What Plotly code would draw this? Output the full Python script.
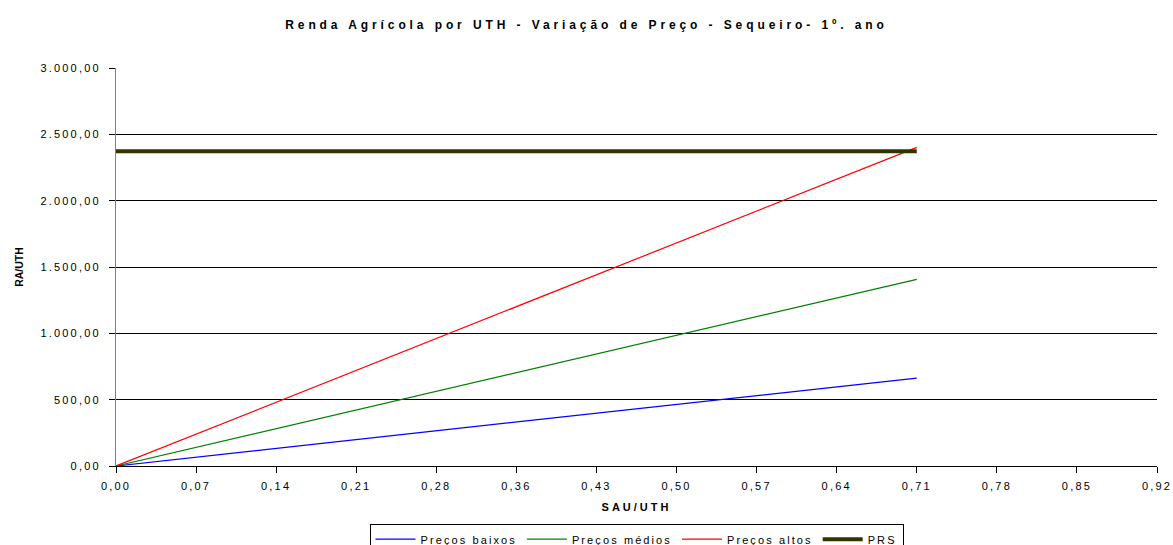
import plotly.graph_objects as go

# ---- data ----
sau_uth = [0.0, 0.711]            # SAU/UTH at the start and end of each series
precos_baixos = [0, 663]
precos_medios = [0, 1407]
precos_altos = [0, 2402]
prs = [2372, 2372]

series_names = ["Preços baixos", "Preços médios", "Preços altos", "PRS"]
x_step = 0.0711                    # category step of the x axis
x_max = 13 * x_step

fig = go.Figure()
fig.add_trace(go.Scatter(x=sau_uth, y=precos_baixos, mode="lines", name=series_names[0],
                         line=dict(color="#0000FF", width=1.2)))
fig.add_trace(go.Scatter(x=sau_uth, y=precos_medios, mode="lines", name=series_names[1],
                         line=dict(color="#008000", width=1.2)))
fig.add_trace(go.Scatter(x=sau_uth, y=precos_altos, mode="lines", name=series_names[2],
                         line=dict(color="#FF0000", width=1.2)))
fig.add_trace(go.Scatter(x=sau_uth, y=prs, mode="lines", name=series_names[3],
                         line=dict(color="#333300", width=4)))

fig.update_layout(
    width=1173, height=545,
    margin=dict(l=116, r=16, t=68, b=79, autoexpand=False),
    paper_bgcolor="white", plot_bgcolor="white",
    separators=",.",
    font=dict(family="Arial, sans-serif", size=11, color="#000000"),
    title=dict(text="Renda Agrícola por UTH - Variação de Preço - Sequeiro- 1º. ano",
               x=0.5, xanchor="center", y=1 - 25 / 545, yref="container", yanchor="middle",
               font=dict(size=12, weight="bold")),
    xaxis=dict(range=[0, x_max], tick0=0, dtick=x_step, tickformat=".2f",
               showgrid=False, zeroline=False, automargin=False,
               showline=True, linecolor="#000000", linewidth=1,
               ticks="outside", ticklen=6, tickcolor="#000000", ticklabelstandoff=4,
               title=dict(text="SAU/UTH", font=dict(size=11, weight="bold"), standoff=12)),
    yaxis=dict(range=[0, 3000], dtick=500, tickformat=",.2f",
               showgrid=True, gridcolor="#000000", gridwidth=1,
               zeroline=False, automargin=False,
               showline=True, linecolor="#808080", linewidth=1,
               ticks="outside", ticklen=6, tickcolor="#000000", ticklabelstandoff=6,
               title=dict(text="RA/UTH", font=dict(size=10.5, weight="bold"), standoff=14)),
    legend=dict(orientation="h", x=0.5, xanchor="center",
                y=-0.145, yanchor="top",
                bordercolor="#000000", borderwidth=1, bgcolor="white",
                font=dict(size=11), itemwidth=40, tracegroupgap=0, traceorder="normal"),
    showlegend=True,
)

post = """
document.body.style.margin = '0';
document.body.style.padding = '0';
var gd = document.getElementById('{plot_id}');
var s = document.createElement('style');
s.innerHTML = '.gtitle{letter-spacing:3.9px} .xtick text,.ytick text{letter-spacing:2.2px} .legendtext{letter-spacing:2.1px} .xtitle{letter-spacing:3px}';
document.head.appendChild(s);
var d = JSON.parse(JSON.stringify(gd.data));
var l = JSON.parse(JSON.stringify(gd.layout));
l.font.family = 'Liberation Sans, Arial, sans-serif';
Plotly.purge(gd);
Plotly.newPlot(gd, d, l, {displayModeBar: false});
"""

fig.write_html("out.html", post_script=post, config={"displayModeBar": False})
